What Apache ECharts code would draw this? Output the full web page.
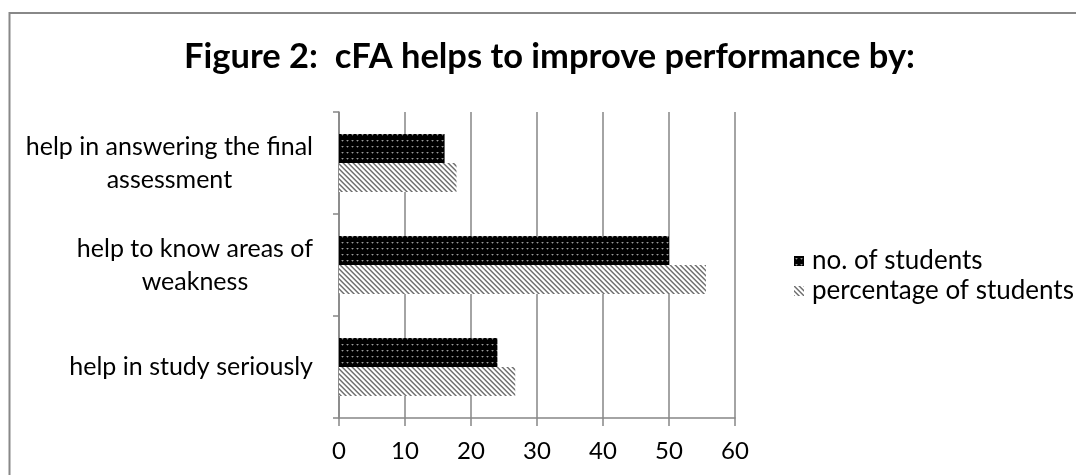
<!DOCTYPE html>
<html>
<head>
<meta charset="utf-8">
<script src="https://cdn.jsdelivr.net/npm/echarts@6/dist/echarts.min.js"></script>
<style>
html,body{margin:0;padding:0;background:#fff;}
#chart{width:1076px;height:475px;}
</style>
</head>
<body>
<div id="chart"></div>
<script>
const titleText = 'Figure 2:  cFA helps to improve performance by:';
const categories = ['help in study seriously', 'help to know areas of\nweakness', 'help in answering the final\nassessment'];
const seriesNames = ['no. of students', 'percentage of students'];
const noOfStudents = [24, 50, 16];
const percentageOfStudents = [26.7, 55.6, 17.8];
const xTicks = { min: 0, max: 60, interval: 10 };

const FONT = 'Lato';

function dotPattern() {
  const c = document.createElement('canvas');
  c.width = 5; c.height = 6;
  const g = c.getContext('2d');
  g.fillStyle = '#000'; g.fillRect(0, 0, 5, 6);
  g.fillStyle = '#9a9a9a'; g.fillRect(2, 2, 1, 1);
  g.fillStyle = '#444'; g.fillRect(1, 2, 1, 1); g.fillRect(3, 2, 1, 1); g.fillRect(2, 3, 1, 1);
  return c;
}
function hatchPattern() {
  const c = document.createElement('canvas');
  c.width = 5; c.height = 5;
  const g = c.getContext('2d');
  g.fillStyle = '#ffffff'; g.fillRect(0, 0, 5, 5);
  for (let y = 0; y < 5; y++) {
    for (let x = 0; x < 5; x++) {
      const d = ((x - y) % 5 + 5) % 5;
      if (d === 0) { g.fillStyle = '#6e6e6e'; g.fillRect(x, y, 1, 1); }
      else if (d === 1) { g.fillStyle = '#a0a0a0'; g.fillRect(x, y, 1, 1); }
      else if (d === 4) { g.fillStyle = '#c8c8c8'; g.fillRect(x, y, 1, 1); }
    }
  }
  return c;
}

// fit title font size to the reference width
const mc = document.createElement('canvas').getContext('2d');
mc.font = 'bold 30px ' + FONT;
const titleSize = 30 * 731 / mc.measureText(titleText).width;

const chart = echarts.init(document.getElementById('chart'), null, { renderer: 'canvas' });
const gridColor = '#868686';
chart.setOption({
  animation: false,
  backgroundColor: '#fff',
  graphic: [
    { type: 'rect', shape: { x: 9.5, y: 13, width: 1200, height: 600 }, style: { fill: 'none', stroke: '#888', lineWidth: 2 }, silent: true },
    { type: 'text', x: 549.5, y: 57, style: { text: titleText, font: 'bold ' + titleSize.toFixed(2) + 'px ' + FONT, fill: '#000', textAlign: 'center', textVerticalAlign: 'middle' } }
  ],
  legend: {
    orient: 'vertical',
    left: 789,
    top: 243,
    itemWidth: 10,
    itemHeight: 10,
    itemGap: 4,
    icon: 'rect',
    textStyle: { fontFamily: FONT, fontSize: 26, color: '#000', padding: [0, 0, 0, 3] },
    data: seriesNames
  },
  grid: { left: 339, right: 341, top: 112, bottom: 57, containLabel: false },
  xAxis: {
    type: 'value',
    min: xTicks.min, max: xTicks.max, interval: xTicks.interval,
    axisLine: { show: true, lineStyle: { color: gridColor, width: 1.5 } },
    axisTick: { show: true, length: 8, lineStyle: { color: gridColor, width: 1.5 } },
    splitLine: { show: true, lineStyle: { color: gridColor, width: 1.5 } },
    axisLabel: { fontFamily: FONT, fontSize: 24, color: '#000', margin: 21 }
  },
  yAxis: {
    type: 'category',
    data: categories,
    axisLine: { show: true, lineStyle: { color: gridColor, width: 1.5 } },
    axisTick: { show: true, length: 6, lineStyle: { color: gridColor, width: 1.5 } },
    axisLabel: {
      fontFamily: FONT, fontSize: 25, color: '#000', margin: 26, align: 'right',
      formatter: function (v) { return v.split('\n').map(function (s) { return '{c|' + s + '}'; }).join('\n'); },
      rich: { c: { fontFamily: FONT, fontSize: 25, color: '#000', lineHeight: 33, align: 'center' } }
    }
  },
  series: [
    {
      name: seriesNames[0], type: 'bar', data: noOfStudents,
      barGap: '0%', barCategoryGap: '43%',
      itemStyle: { color: { image: dotPattern(), repeat: 'repeat' } }
    },
    {
      name: seriesNames[1], type: 'bar', data: percentageOfStudents,
      barGap: '0%', barCategoryGap: '43%',
      itemStyle: { color: { image: hatchPattern(), repeat: 'repeat' } }
    }
  ]
});
</script>
</body>
</html>
